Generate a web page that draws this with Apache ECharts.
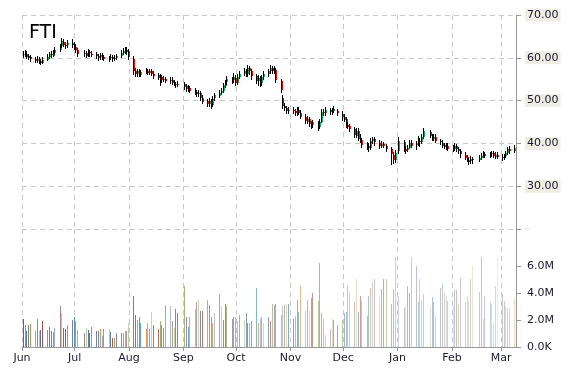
<!DOCTYPE html>
<html><head><meta charset="utf-8">
<script src="https://cdn.jsdelivr.net/npm/echarts@6/dist/echarts.min.js"></script>
<style>html,body{margin:0;padding:0;background:#fff}#c{width:570px;height:370px}</style>
</head><body><div id="c"></div>
<script>
// ---- DATA ----
const title = 'FTI';
const monthNames = ['Jan','Feb','Mar','Apr','May','Jun','Jul','Aug','Sep','Oct','Nov','Dec'];
const firstDay = [2014, 5, 2];   // 2014-06-02
const lastDay = [2015, 2, 9];    // 2015-03-09
const holidays = ['2014-07-04','2014-09-01','2014-11-27','2014-12-25','2015-01-01','2015-01-19','2015-02-16'];
const priceTicks = [20, 30, 40, 50, 60, 70];
const volumeTicks = [0, 2, 4, 6];
// [open, close, low, high] per trading day
const ohlcJun = [[60.6,60.9,60.0,61.7],[60.9,61.2,60.3,61.8],[61.0,60.4,59.8,61.5],[60.4,60.0,59.4,60.9],[60.1,59.6,59.1,60.6],[59.7,59.3,58.7,60.2],[59.3,59.8,58.8,60.4],[59.7,59.2,58.6,60.2],[59.3,58.9,58.3,59.8],[59.0,59.6,58.5,60.1],[59.7,60.3,59.2,60.9],[60.2,60.8,59.7,61.4],[60.8,60.5,59.9,61.5],[60.6,61.2,60.1,61.8],[61.2,61.9,60.7,62.5],[62.0,62.6,61.4,63.2],[62.7,63.9,62.2,64.7],[63.8,63.2,62.6,64.5],[63.1,62.8,62.1,63.8],[62.9,63.4,62.3,64.1],[63.5,63.0,62.3,64.3]];
const ohlcJul = [[63.0,62.6,61.9,63.7],[62.6,61.8,61.2,63.2],[61.8,60.8,60.2,62.3],[60.9,61.2,60.3,61.9],[61.2,60.6,60.0,61.7],[60.6,61.5,60.1,62.1],[61.3,61.0,60.3,61.9],[61.0,60.7,60.1,61.5],[60.8,60.4,59.8,61.3],[60.4,60.0,59.3,60.9],[60.1,60.6,59.6,61.2],[60.6,60.2,59.5,61.1],[60.2,59.8,59.2,60.7],[59.8,59.9,59.1,60.5],[59.9,60.2,59.4,60.8],[60.2,59.7,59.1,60.7],[59.8,60.0,59.2,60.6],[60.0,60.4,59.5,61.0],[60.5,61.2,60.0,61.8],[61.2,61.6,60.7,62.2],[61.6,61.9,61.0,62.6],[61.9,61.4,60.7,62.5]];
const ohlcAug = [[61.5,60.0,59.4,62.0],[59.8,57.0,56.0,60.4],[57.0,56.2,55.5,57.7],[56.1,56.8,55.6,57.4],[56.8,56.0,55.4,57.4],[56.0,56.6,55.5,57.2],[56.7,57.1,56.1,57.7],[57.0,56.5,55.9,57.5],[56.5,56.9,56.0,57.5],[56.9,56.3,55.7,57.3],[56.3,55.8,55.0,56.8],[55.9,55.3,54.7,56.4],[55.3,55.6,53.3,56.2],[55.5,54.8,54.2,56.0],[54.8,55.1,54.3,55.7],[55.1,54.6,54.0,55.6],[54.7,54.9,53.9,55.5],[54.9,54.3,53.7,55.4],[54.3,54.0,53.3,54.8],[53.9,53.6,52.9,54.4],[53.6,53.9,53.1,54.5]];
const ohlcSep = [[53.8,53.2,52.5,54.3],[53.3,52.6,52.0,53.8],[52.7,53.0,52.1,53.7],[53.0,52.4,51.7,53.5],[52.4,52.0,51.3,52.9],[52.0,51.5,50.8,52.5],[51.5,51.8,50.9,52.4],[51.7,50.6,50.0,52.2],[50.7,49.8,49.1,51.2],[49.8,49.2,48.5,50.4],[49.2,49.9,48.6,50.6],[49.8,49.0,48.0,50.3],[49.0,50.4,48.5,51.0],[50.5,51.2,49.9,51.8],[51.2,51.8,50.5,52.5],[51.8,52.3,51.2,52.9],[52.3,53.6,51.8,54.2],[53.6,54.2,53.0,54.9],[54.2,55.0,53.6,55.7],[54.9,54.6,53.8,55.6],[54.6,55.4,54.0,56.5]];
const ohlcOct = [[55.3,54.2,53.5,55.9],[54.2,55.6,53.6,56.2],[55.6,56.3,55.0,57.0],[56.3,57.0,55.7,57.7],[57.0,56.2,55.6,57.5],[56.2,57.6,55.5,58.4],[57.6,56.8,56.0,58.2],[56.8,55.7,54.9,57.3],[55.7,54.6,53.9,56.3],[54.6,55.2,53.5,55.9],[55.1,54.0,53.1,55.7],[54.0,55.4,53.3,56.0],[55.4,56.2,54.8,56.8],[56.2,56.8,55.6,57.4],[56.8,57.6,56.2,58.4],[57.6,56.9,56.3,58.1],[56.9,57.3,56.1,58.0],[57.2,54.8,54.2,57.7],[54.6,52.4,51.7,55.1],[50.6,48.8,48.0,51.3],[48.7,48.2,47.5,49.4],[48.2,47.5,46.8,48.7],[47.6,47.8,46.9,48.6]];
const ohlcNov = [[47.8,47.6,46.8,48.5],[47.5,47.0,46.3,48.1],[47.0,47.9,46.5,48.6],[47.9,47.2,46.6,48.4],[47.2,46.3,45.6,47.7],[46.2,45.2,44.5,46.8],[45.2,45.8,44.6,46.4],[45.7,44.6,43.9,46.2],[44.6,44.2,43.4,45.2],[44.2,44.9,43.6,45.5],[44.8,43.9,43.0,45.3],[43.9,45.0,43.3,45.6],[45.1,47.4,44.7,48.0],[47.3,47.0,46.3,48.0],[47.0,47.8,46.5,48.5],[47.8,47.3,46.7,48.3],[47.3,47.6,46.7,48.3],[47.6,48.0,47.0,48.7],[47.6,47.2,46.5,48.1]];
const ohlcDec = [[46.8,46.2,45.3,47.5],[46.2,45.6,44.9,46.8],[45.6,44.4,43.7,46.1],[44.4,44.0,43.3,45.1],[44.0,43.3,42.6,44.6],[43.3,42.0,41.3,43.8],[41.8,43.0,41.2,43.7],[43.0,41.2,40.6,43.5],[41.2,40.8,40.0,42.1],[40.8,39.6,38.9,41.3],[39.6,39.3,38.4,40.4],[39.3,38.8,38.0,40.2],[38.9,40.6,38.4,41.2],[40.6,41.0,39.8,41.6],[41.0,40.2,39.5,41.5],[40.2,39.4,38.7,40.7],[39.4,39.9,38.9,40.5],[39.9,39.5,39.0,40.3],[39.4,38.6,38.0,39.9],[38.6,37.4,35.0,39.1],[37.4,36.2,35.3,37.9],[36.2,37.8,35.5,38.4]];
const ohlcJan = [[38.2,40.6,37.6,41.5],[40.4,38.8,38.1,40.9],[38.8,38.4,37.5,39.5],[38.5,39.0,37.9,39.7],[39.1,40.2,38.6,40.8],[40.2,39.6,38.9,40.7],[39.6,40.0,38.5,40.6],[40.0,40.8,39.3,41.7],[40.6,40.4,39.2,41.3],[40.5,41.6,39.9,42.2],[41.5,42.8,41.0,43.5],[42.7,41.8,41.2,43.2],[41.8,41.2,40.5,42.3],[41.2,41.6,40.6,42.3],[41.6,40.6,40.0,42.1],[40.6,40.3,39.6,41.1],[40.2,39.6,39.0,40.7],[39.6,39.2,38.6,40.2],[39.2,39.5,38.5,40.1],[39.5,38.9,38.3,40.0]];
const ohlcFeb = [[38.9,38.8,38.1,39.6],[38.8,39.4,38.3,40.0],[39.3,38.6,38.0,39.8],[38.6,38.2,37.5,39.2],[38.2,37.4,36.7,38.8],[37.4,36.8,36.2,37.9],[36.8,36.2,35.6,37.3],[36.2,35.8,35.0,36.7],[35.8,36.3,35.3,37.0],[36.3,36.0,35.3,36.9],[36.1,36.6,35.6,37.2],[36.6,37.1,36.1,37.7],[37.1,37.6,36.6,38.2],[37.6,37.2,36.6,38.1],[37.2,37.5,36.6,38.1],[37.5,37.8,36.9,38.3],[37.8,37.0,36.5,38.3],[37.0,37.4,36.4,37.9],[37.4,36.9,36.3,37.9]];
const ohlcMar = [[36.9,36.6,36.0,37.5],[36.6,37.1,36.1,37.6],[37.1,37.8,36.6,38.3],[37.7,38.6,37.2,39.2],[38.6,38.2,37.6,39.3],[38.2,39.0,37.7,39.6]];
// volume in millions per trading day
const volJun = [2.1,1.6,1.2,1.6,1.7,1.2,2.1,1.2,1.25,1.9,1.25,1.5,1.2,1.1,1.4,3.0,2.5,1.4,1.3,1.6,2.0];
const volJul = [2.2,1.9,1.25,1.0,1.4,1.25,1.0,1.5,1.2,1.2,1.3,0.8,1.3,1.3,1.1,0.7,0.7,1.0,1.0,1.0,1.2,1.2];
const volAug = [1.8,3.8,2.4,2.0,2.2,1.8,1.3,1.8,1.3,2.6,1.6,1.3,1.9,1.6,1.4,3.1,3.0,1.9,1.4,2.8,2.5];
const volSep = [4.5,2.2,1.5,2.2,2.8,3.3,3.5,2.7,2.7,3.5,3.1,2.2,1.8,2.5,3.9,3.0,2.0,3.2,3.0,2.1,2.2];
const volOct = [2.2,1.9,2.4,2.0,2.5,1.8,1.8,1.9,4.4,1.8,2.1,2.2,1.8,2.2,1.9,3.2,3.1,3.2,2.4,3.0,3.1,3.2,3.2];
const volNov = [2.1,2.3,3.5,2.6,4.5,2.7,3.5,2.7,3.6,4.0,3.4,6.2,2.5,2.1,0.9,1.3,2.1,2.0,1.6];
const volDec = [2.0,2.5,2.6,4.5,4.0,3.3,5.0,2.6,3.8,3.4,2.3,3.8,4.4,4.8,5.0,3.7,4.3,5.0,5.0,3.2,4.3,6.7];
const volJan = [3.8,2.9,3.0,4.5,4.0,6.7,6.0,3.3,5.0,3.5,3.9,3.0,3.7,3.3,2.3,4.4,4.7,4.0,3.8,3.4];
const volFeb = [3.0,4.2,4.2,3.2,5.1,3.3,3.8,3.4,5.0,6.0,4.1,6.7,2.1,3.8,3.4,3.2,1.8,4.5,6.7];
const volMar = [3.9,3.4,3.0,2.9,2.9,3.6];

// ---- BUILD ----
const ohlc = [].concat(ohlcJun, ohlcJul, ohlcAug, ohlcSep, ohlcOct, ohlcNov, ohlcDec, ohlcJan, ohlcFeb, ohlcMar);
const volume = [].concat(volJun, volJul, volAug, volSep, volOct, volNov, volDec, volJan, volFeb, volMar);
function pad(n){return (n<10?'0':'')+n;}
const days = [];
{
  const d = new Date(firstDay[0], firstDay[1], firstDay[2]);
  const end = new Date(lastDay[0], lastDay[1], lastDay[2]).getTime();
  while (d.getTime() <= end) {
    const key = d.getFullYear()+'-'+pad(d.getMonth()+1)+'-'+pad(d.getDate());
    const wd = d.getDay();
    if (wd !== 0 && wd !== 6 && holidays.indexOf(key) < 0) days.push(d.getTime());
    d.setDate(d.getDate()+1);
  }
}
const candleData = days.map((t,i)=>[t].concat(ohlc[i] || []));
const volData = days.map((t,i)=>[t, volume[i]]);
const xMin = new Date(2014, 5, 1).getTime();
const xMax = new Date(2015, 2, 9, 12).getTime();
const DAY = 86400000;

const palette = ['#AA4643','#89A54E','#80699B','#3D96AE','#DB843D','#92A8CD','#A47D7C','#B5CA92','#4572A7'];
const UP = '#00b060', DOWN = '#ff0000';
const gridLine = {show:true, lineStyle:{color:'#c8c8c8', type:[5,4], width:1}};
const FONT = 'DejaVu Sans';

function volColor(i){
  const c = palette[i % palette.length];
  const a = 1 - 0.68*i/(volData.length-1);
  const r=parseInt(c.substr(1,2),16), g=parseInt(c.substr(3,2),16), b=parseInt(c.substr(5,2),16);
  return 'rgba('+r+','+g+','+b+','+a.toFixed(3)+')';
}

const timeAxisBase = {type:'time', min:xMin, max:xMax, minInterval:28*DAY, maxInterval:31*DAY, splitNumber:10};

const chart = echarts.init(document.getElementById('c'), null, {renderer:'canvas'});
chart.setOption({
  animation:false,
  backgroundColor:'#ffffff',
  title:{text:title, left:24, top:19, textStyle:{fontFamily:FONT, fontSize:19, fontWeight:'normal', color:'#000'}},
  grid:[
    {left:22, right:54, top:15, height:214},
    {left:22, right:54, top:229, bottom:23}
  ],
  xAxis:[
    Object.assign({}, timeAxisBase, {gridIndex:0,
     axisLine:{show:false}, axisTick:{show:false}, axisLabel:{show:false}, minorTick:{show:false},
     splitLine:gridLine}),
    Object.assign({}, timeAxisBase, {gridIndex:1,
     axisLine:{show:true, lineStyle:{color:'#999999'}},
     axisTick:{show:true, length:4, inside:false, lineStyle:{color:'#999999'}},
     axisLabel:{show:true, margin:6, fontFamily:FONT, fontSize:11, color:'#1a1a2e', hideOverlap:false,
       formatter:(v)=>monthNames[new Date(v).getMonth()]},
     splitLine:gridLine})
  ],
  yAxis:[
    {type:'value', gridIndex:0, position:'right', min:20, max:70, interval:10,
     axisLine:{show:true, lineStyle:{color:'#999999'}},
     axisTick:{show:true, length:5, lineStyle:{color:'#999999'}},
     axisLabel:{margin:9, fontFamily:FONT, fontSize:11, color:'#1a1a2e', backgroundColor:'#eeeee4', padding:[1,2,1,2],
       formatter:(v)=> v===priceTicks[0] ? '' : v.toFixed(2)},
     splitLine:gridLine},
    {type:'value', gridIndex:1, position:'right', min:0, max:8.74,
     axisLine:{show:true, lineStyle:{color:'#999999'}},
     axisTick:{show:true, length:5, customValues:volumeTicks, lineStyle:{color:'#999999'}},
     axisLabel:{margin:11, customValues:volumeTicks, fontFamily:FONT, fontSize:11, color:'#1a1a2e',
       formatter:(v)=> v===0 ? '0.0K' : v.toFixed(1)+'M'},
     splitLine:{show:false}}
  ],
  series:[
    {type:'custom', xAxisIndex:1, yAxisIndex:1, data:volData, encode:{x:0, y:1},
     renderItem:(params, api)=>{
       const t = api.value(0), v = api.value(1);
       const p1 = api.coord([t, v]), p0 = api.coord([t, 0]);
       const x = Math.round(p1[0]);
       const y1 = Math.round(p1[1]);
       return {type:'rect', shape:{x:x-1, y:y1, width:1, height:Math.round(p0[1])-y1},
               style:{fill: volColor(params.dataIndex)}};
     }},
    {type:'custom', xAxisIndex:0, yAxisIndex:0, data:candleData, encode:{x:0, y:[1,2,3,4]},
     renderItem:(params, api)=>{
       const t = api.value(0), o = api.value(1), c = api.value(2), l = api.value(3), h = api.value(4);
       const pl = api.coord([t,l]), ph = api.coord([t,h]), po = api.coord([t,o]), pc = api.coord([t,c]);
       const x = Math.round(pl[0]);
       const yh = Math.round(ph[1]), yl = Math.round(pl[1]);
       const top = Math.round(Math.min(po[1], pc[1]));
       const hh = Math.max(1, Math.round(Math.abs(pc[1]-po[1])));
       return {type:'group', children:[
         {type:'rect', shape:{x:x-1, y:yh, width:1, height:Math.max(1, yl-yh)}, style:{fill:'#000'}},
         {type:'rect', shape:{x:x, y:top, width:1, height:hh}, style:{fill: c>=o ? UP : DOWN}}
       ]};
     }}
  ]
});
</script></body></html>
